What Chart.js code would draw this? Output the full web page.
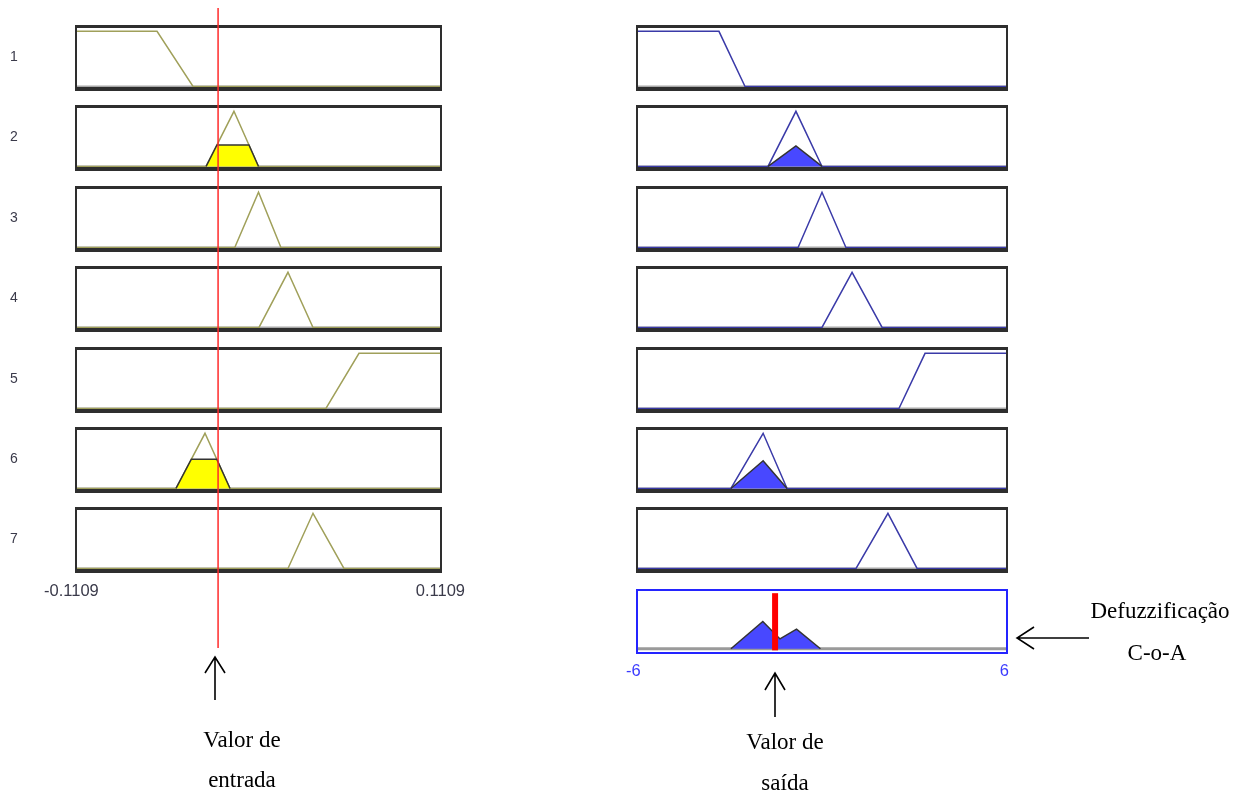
<!DOCTYPE html>
<html>
<head>
<meta charset="utf-8">
<script src="https://cdn.jsdelivr.net/npm/chart.js@4.4.0/dist/chart.umd.min.js"></script>
<style>
    body { margin: 0; background: #fff; width: 1248px; height: 796px; position: relative; overflow: hidden; }
    .box { position: absolute; box-sizing: border-box; background: #fff; }
    .box.in, .box.out { border: 2px solid #2e2e2e; border-top-width: 3px; border-bottom-width: 4px; }
    .box.agg { border: 2px solid #2424ff; }
    .box canvas { display: block; }
    #overlay { position: absolute; left: 77px; top: 8px; z-index: 5; pointer-events: none; }
    #notes { position: absolute; left: 0; top: 0; z-index: 10; pointer-events: none; }
</style>
</head>
<body>
<canvas id="overlay" width="363" height="640"></canvas>
<svg id="notes" width="1248" height="796"></svg>
<script>
// Input variable (left column)
const inRange = [-0.1109, 0.1109];
const inputValue = -0.0247;
// membership functions as trapezoids [a, b, c, d] (triangle when b == c)
const inputMFs = [
    [-0.1109, -0.1109, -0.062, -0.040],
    [-0.032, -0.015, -0.015, 0.0],
    [-0.0145, 0.0, 0.0, 0.0137],
    [0.0003, 0.018, 0.018, 0.0333],
    [0.0412, 0.0614, 0.1109, 0.1109],
    [-0.0504, -0.0327, -0.0327, -0.0174],
    [0.018, 0.0333, 0.0333, 0.0522]
];
// rule firing strengths
const firing = [0, 0.39, 0, 0, 0, 0.53, 0];

// Output variable (right column)
const outRange = [-6, 6];
const outputMFs = [
    [-6, -6, -3.36, -2.51],
    [-1.76, -0.85, -0.85, 0.0],
    [-0.78, 0.0, 0.0, 0.78],
    [0.0, 0.98, 0.98, 1.96],
    [2.51, 3.36, 6, 6],
    [-2.97, -1.92, -1.92, -1.14],
    [1.11, 2.15, 2.15, 3.1]
];
const outputValue = -1.53; // centre of area
// aggregated output outline
const aggX = [-2.97, -1.93, -1.37, -0.83, -0.05];
const aggY = [0, 0.5, 0.18, 0.36, 0];

const ruleLabels = ['1', '2', '3', '4', '5', '6', '7'];
const inTicks = ['-0.1109', '0.1109'];
const outTicks = ['-6', '6'];

const OLIVE = '#a0a05a';
const NAVY = '#3a3aa8';

// polyline of a trapezoid MF over the whole range
function mfLine(p, lo, hi) {
    const [a, b, c, d] = p;
    const pts = [{ x: lo, y: a <= lo ? 1 : 0 }];
    if (a > lo) pts.push({ x: a, y: 0 });
    pts.push({ x: Math.max(b, lo), y: 1 });
    pts.push({ x: Math.min(c, hi), y: 1 });
    if (d < hi) pts.push({ x: d, y: 0 });
    pts.push({ x: hi, y: d >= hi ? 1 : 0 });
    return pts;
}

// min implication (clipped) for the input side
function clipped(p, h) {
    const [a, b, c, d] = p;
    return [{ x: a, y: 0 }, { x: a + h * (b - a), y: h }, { x: d - h * (d - c), y: h }, { x: d, y: 0 }];
}

// product implication (scaled) for the output side
function scaled(p, h) {
    const [a, b, c, d] = p;
    return [{ x: a, y: 0 }, { x: b, y: h }, { x: c, y: h }, { x: d, y: 0 }];
}

function baseOptions(range, ymin, ymax) {
    return {
        responsive: false,
        animation: false,
        events: [],
        layout: { padding: 0 },
        plugins: { legend: { display: false }, tooltip: { enabled: false } },
        elements: { point: { radius: 0 }, line: { tension: 0 } },
        scales: {
            x: { type: 'linear', min: range[0], max: range[1], display: false },
            y: { min: ymin, max: ymax, display: false }
        }
    };
}

function makePanel(left, top, width, height, cls, datasets, range, ymin, ymax) {
    const box = document.createElement('div');
    box.className = 'box ' + cls;
    box.style.left = left + 'px';
    box.style.top = top + 'px';
    box.style.width = width + 'px';
    box.style.height = height + 'px';
    const cv = document.createElement('canvas');
    cv.width = width - 4;
    cv.height = height - (cls === 'agg' ? 4 : 7);
    box.appendChild(cv);
    document.body.appendChild(box);
    new Chart(cv, { type: 'line', data: { datasets: datasets }, options: baseOptions(range, ymin, ymax) });
}

function baseline(range, color, w) {
    return { data: [{ x: range[0], y: 0 }, { x: range[1], y: 0 }], borderColor: color, borderWidth: w, order: 3 };
}

const rowTop = i => Math.round(25 + i * 80.4);

// rule rows
inputMFs.forEach((mf, i) => {
    const ds = [];
    if (firing[i] > 0) {
        ds.push({ data: clipped(mf, firing[i]), borderColor: '#333', borderWidth: 1.5, backgroundColor: '#ffff00', fill: 'origin', order: 0 });
    }
    ds.push({ data: mfLine(mf, inRange[0], inRange[1]), borderColor: OLIVE, borderWidth: 1.5, order: 1 });
    ds.push(baseline(inRange, '#a8a8a8', 2));
    makePanel(75, rowTop(i), 367, 66, 'in', ds, inRange, -0.01, 1.06);
});

outputMFs.forEach((mf, i) => {
    const ds = [];
    if (firing[i] > 0) {
        ds.push({ data: scaled(mf, firing[i] * 0.95), borderColor: '#333', borderWidth: 1.5, backgroundColor: '#4848ff', fill: 'origin', order: 0 });
    }
    ds.push({ data: mfLine(mf, outRange[0], outRange[1]), borderColor: NAVY, borderWidth: 1.5, order: 1 });
    ds.push(baseline(outRange, '#a8a8a8', 2));
    makePanel(636, rowTop(i), 372, 66, 'out', ds, outRange, -0.01, 1.06);
});

// defuzzification panel
makePanel(636, 589, 372, 65, 'agg', [
    { data: [{ x: outputValue, y: -0.03 }, { x: outputValue, y: 1.02 }], borderColor: '#ff0000', borderWidth: 6, order: 0 },
    { data: aggX.map((x, k) => ({ x: x, y: aggY[k] })), borderColor: '#333', borderWidth: 1.5, backgroundColor: '#4848ff', fill: 'origin', order: 1 },
    baseline(outRange, '#9a9a9a', 3)
], outRange, -0.06, 1.06);

// red input line across all input rows
new Chart(document.getElementById('overlay'), {
    type: 'line',
    data: { datasets: [{ data: [{ x: inputValue, y: 0 }, { x: inputValue, y: 1 }], borderColor: '#ff2a2a', borderWidth: 1.5 }] },
    options: baseOptions(inRange, 0, 1)
});

// labels, ticks and annotations
const svg = document.getElementById('notes');
function addText(x, y, str, size, family, color, anchor) {
    const t = document.createElementNS('http://www.w3.org/2000/svg', 'text');
    t.setAttribute('x', x);
    t.setAttribute('y', y);
    t.setAttribute('font-size', size);
    t.setAttribute('font-family', family);
    t.setAttribute('fill', color);
    t.setAttribute('text-anchor', anchor);
    t.textContent = str;
    svg.appendChild(t);
}
function addPath(d) {
    const p = document.createElementNS('http://www.w3.org/2000/svg', 'path');
    p.setAttribute('d', d);
    p.setAttribute('stroke', '#000');
    p.setAttribute('stroke-width', '1.6');
    p.setAttribute('fill', 'none');
    svg.appendChild(p);
}

const SANS = 'Liberation Sans, Arial, sans-serif';
const SERIF = 'Liberation Serif, Times New Roman, serif';

ruleLabels.forEach((s, i) => addText(14, rowTop(i) + 36, s, 14, SANS, '#3a3a4a', 'middle'));
addText(44, 596, inTicks[0], 16.5, SANS, '#3a3a4a', 'start');
addText(465, 596, inTicks[1], 16.5, SANS, '#3a3a4a', 'end');
addText(626, 676, outTicks[0], 16.5, SANS, '#3a3aff', 'start');
addText(1009, 676, outTicks[1], 16.5, SANS, '#3a3aff', 'end');

addText(242, 747, 'Valor de', 23, SERIF, '#000', 'middle');
addText(242, 787, 'entrada', 23, SERIF, '#000', 'middle');
addText(785, 749, 'Valor de', 23, SERIF, '#000', 'middle');
addText(785, 790, 'saída', 23, SERIF, '#000', 'middle');
addText(1160, 618, 'Defuzzificação', 23, SERIF, '#000', 'middle');
addText(1157, 660, 'C-o-A', 23, SERIF, '#000', 'middle');

addPath('M215 700 L215 657 M205 673 L215 657 L225 673');
addPath('M775 717 L775 673 M765 690 L775 673 L785 690');
addPath('M1089 638 L1017 638 M1034 627 L1017 638 L1034 649');
</script>
</body>
</html>
